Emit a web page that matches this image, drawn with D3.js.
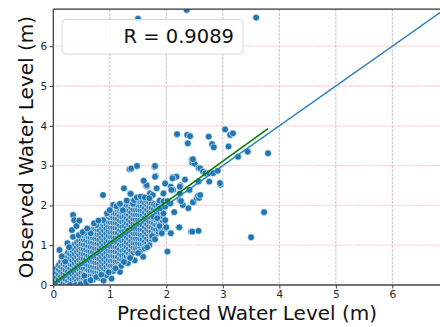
<!DOCTYPE html>
<html>
<head>
<meta charset="utf-8">
<script src="https://cdn.jsdelivr.net/npm/d3@7"></script>
<style>
  body { margin: 0; background: #fff; }
  svg { display: block; font-family: "DejaVu Sans", sans-serif; }
</style>
</head>
<body>
<div id="scatter"></div>
<script>
// Predicted vs observed water level (m)
var svgWidth = 440;
var svgHeight = 327;

var margin = { top: 9.2, left: 53.3, bottom: 42 };
var axisMax = 6.93;
var plotWidth = 391.6;   // runs a little past the right edge, like the reference
var height = svgHeight - margin.top - margin.bottom;

var tickValues = [0, 1, 2, 3, 4, 5, 6];
var gridValues = [1, 2, 3, 4, 5, 6];
var xTitle = "Predicted Water Level (m)";
var yTitle = "Observed Water Level (m)";
var legendText = "R = 0.9089";

// fitted line (observed = intercept + slope * predicted)
var regIntercept = 0.04;
var regSlope = 1.024;

// dense band of points: [predicted, [observed values]]
var bandColumns = [
  [0.02, [0.00, 0.11, 0.22, 0.32]],
  [0.06, [0.00, 0.07, 0.19, 0.31, 0.42]],
  [0.10, [0.03, 0.15, 0.27, 0.39, 0.50]],
  [0.14, [0.00, 0.10, 0.22, 0.34, 0.46, 0.58]],
  [0.18, [0.05, 0.17, 0.29, 0.41, 0.53, 0.65]],
  [0.22, [0.02, 0.14, 0.26, 0.38, 0.50, 0.62, 0.74]],
  [0.26, [0.02, 0.10, 0.22, 0.34, 0.46, 0.58, 0.70, 0.82]],
  [0.30, [0.06, 0.18, 0.30, 0.42, 0.54, 0.66, 0.78, 0.90]],
  [0.34, [0.03, 0.14, 0.26, 0.38, 0.50, 0.62, 0.74, 0.86, 0.96]],
  [0.38, [0.06, 0.18, 0.30, 0.42, 0.54, 0.66, 0.78, 0.90, 1.02]],
  [0.42, [0.05, 0.11, 0.23, 0.35, 0.47, 0.59, 0.71, 0.83, 0.95, 1.07]],
  [0.46, [0.07, 0.16, 0.28, 0.40, 0.52, 0.64, 0.76, 0.88, 1.00, 1.12]],
  [0.50, [0.08, 0.20, 0.32, 0.44, 0.56, 0.68, 0.80, 0.92, 1.04, 1.16]],
  [0.54, [0.11, 0.18, 0.30, 0.42, 0.54, 0.66, 0.78, 0.90, 1.02, 1.14, 1.24]],
  [0.58, [0.17, 0.29, 0.41, 0.53, 0.65, 0.77, 0.89, 1.01, 1.13, 1.25]],
  [0.62, [0.16, 0.26, 0.38, 0.50, 0.62, 0.74, 0.86, 0.98, 1.10, 1.22, 1.32]],
  [0.66, [0.24, 0.36, 0.48, 0.60, 0.72, 0.84, 0.96, 1.08, 1.20, 1.32]],
  [0.70, [0.23, 0.35, 0.47, 0.59, 0.71, 0.83, 0.95, 1.07, 1.19, 1.31, 1.40]],
  [0.74, [0.25, 0.33, 0.45, 0.57, 0.69, 0.81, 0.93, 1.05, 1.17, 1.29, 1.41]],
  [0.78, [0.32, 0.44, 0.56, 0.68, 0.80, 0.92, 1.04, 1.16, 1.28, 1.40, 1.48]],
  [0.82, [0.31, 0.42, 0.54, 0.66, 0.78, 0.90, 1.02, 1.14, 1.26, 1.38, 1.50]],
  [0.86, [0.35, 0.47, 0.59, 0.71, 0.83, 0.95, 1.07, 1.19, 1.31, 1.43, 1.55]],
  [0.90, [0.35, 0.41, 0.53, 0.65, 0.77, 0.89, 1.01, 1.13, 1.25, 1.37, 1.49, 1.60]],
  [0.94, [0.37, 0.46, 0.58, 0.70, 0.82, 0.94, 1.06, 1.18, 1.30, 1.42, 1.54, 1.66]],
  [0.98, [0.39, 0.51, 0.63, 0.75, 0.87, 0.99, 1.11, 1.23, 1.35, 1.47, 1.59, 1.71]],
  [1.02, [0.42, 0.49, 0.61, 0.73, 0.85, 0.97, 1.09, 1.21, 1.33, 1.45, 1.57, 1.69, 1.77]],
  [1.06, [0.49, 0.61, 0.73, 0.85, 0.97, 1.09, 1.21, 1.33, 1.45, 1.57, 1.69, 1.81]],
  [1.10, [0.50, 0.60, 0.72, 0.84, 0.96, 1.08, 1.20, 1.32, 1.44, 1.56, 1.68, 1.80]],
  [1.14, [0.59, 0.71, 0.83, 0.95, 1.07, 1.19, 1.31, 1.43, 1.55, 1.67, 1.79, 1.89]],
  [1.18, [0.58, 0.66, 0.78, 0.90, 1.02, 1.14, 1.26, 1.38, 1.50, 1.62, 1.74, 1.86, 1.93]],
  [1.22, [0.63, 0.75, 0.87, 0.99, 1.11, 1.23, 1.35, 1.47, 1.59, 1.71, 1.83, 1.95]],
  [1.26, [0.66, 0.77, 0.89, 1.01, 1.13, 1.25, 1.37, 1.49, 1.61, 1.73, 1.85, 1.97]],
  [1.30, [0.72, 0.84, 0.96, 1.08, 1.20, 1.32, 1.44, 1.56, 1.68, 1.80, 1.92, 2.00]],
  [1.34, [0.74, 0.80, 0.92, 1.04, 1.16, 1.28, 1.40, 1.52, 1.64, 1.76, 1.88, 2.00]],
  [1.38, [0.78, 0.87, 0.99, 1.11, 1.23, 1.35, 1.47, 1.59, 1.71, 1.83, 1.95, 2.04]],
  [1.42, [0.82, 0.94, 1.06, 1.18, 1.30, 1.42, 1.54, 1.66, 1.78, 1.90, 2.02]],
  [1.46, [0.86, 0.93, 1.05, 1.17, 1.29, 1.41, 1.53, 1.65, 1.77, 1.89, 2.01, 2.08]],
  [1.50, [0.93, 1.05, 1.17, 1.29, 1.41, 1.53, 1.65, 1.77, 1.89, 2.01, 2.10]],
  [1.54, [0.94, 1.04, 1.16, 1.28, 1.40, 1.52, 1.64, 1.76, 1.88, 2.00, 2.10]],
  [1.58, [1.03, 1.15, 1.27, 1.39, 1.51, 1.63, 1.75, 1.87, 1.99, 2.10]],
  [1.62, [1.02, 1.10, 1.22, 1.34, 1.46, 1.58, 1.70, 1.82, 1.94, 2.06]],
  [1.66, [1.06, 1.17, 1.29, 1.41, 1.53, 1.65, 1.77, 1.89, 2.01, 2.10]],
  [1.70, [1.12, 1.24, 1.36, 1.48, 1.60, 1.72, 1.84, 1.96, 2.08]],
  [1.74, [1.16, 1.22, 1.34, 1.46, 1.58, 1.70, 1.82, 1.94, 2.06]],
  [1.78, [1.22, 1.31, 1.43, 1.55, 1.67, 1.79, 1.91, 2.03]],
  [1.82, [1.28, 1.40, 1.52, 1.64, 1.76, 1.88, 2.00]],
  [1.86, [1.34, 1.41, 1.53, 1.65, 1.77, 1.89, 2.01]],
  [1.90, [1.43, 1.55, 1.67, 1.79, 1.91]],
  [1.94, [1.50, 1.60, 1.72, 1.84, 1.95]]
];

// loose points around the band: [predicted, observed]
var loosePoints = [
  [0.11, 0.88], [0.25, 1.05], [0.21, 0.59], [0.33, 1.38], [0.35, 1.21],
  [0.35, 1.76], [0.37, 1.63], [0.46, 1.62], [0.41, 1.48], [0.56, 1.31],
  [0.66, 1.30], [0.76, 1.51], [0.88, 1.63], [1.06, 2.01], [1.23, 1.88],
  [1.38, 2.09], [0.88, 2.26], [1.25, 2.43], [1.36, 2.30], [1.37, 2.29],
  [1.41, 2.04], [1.43, 2.13], [0.55, 0.23], [0.70, 0.13], [0.62, 0.10],
  [0.82, 0.18], [0.89, 0.11], [1.03, 0.16], [0.94, 0.25], [1.06, 0.35],
  [1.18, 0.33], [1.20, 0.48], [1.32, 0.55], [1.44, 0.62], [1.59, 0.71],
  [1.53, 0.84], [1.62, 0.92], [1.70, 1.00], [2.02, 0.84], [1.75, 1.23],
  [2.08, 1.30], [2.22, 1.45], [2.23, 1.45], [2.44, 1.34], [2.57, 1.36],
  [2.46, 1.34], [1.98, 1.49], [1.88, 1.48], [1.98, 1.42], [1.98, 1.63],
  [1.77, 1.72], [1.84, 1.68], [1.95, 1.80], [1.89, 1.93], [1.98, 1.97],
  [2.07, 2.05], [1.88, 2.12], [1.95, 2.10], [2.02, 2.11], [2.14, 1.83],
  [2.39, 1.93], [2.29, 2.01], [2.24, 2.13], [2.26, 2.11], [2.48, 2.07],
  [2.47, 2.08], [2.54, 2.18], [2.56, 2.24], [2.58, 2.19], [2.60, 2.26],
  [1.95, 2.30], [2.24, 2.30], [1.71, 2.30], [1.76, 2.26], [1.83, 2.43],
  [1.98, 2.55], [2.08, 2.47], [2.12, 2.39], [2.09, 2.39], [2.25, 2.50],
  [2.24, 2.47], [2.41, 2.39], [2.33, 2.65], [2.11, 2.71], [2.18, 2.72],
  [2.11, 2.68], [2.57, 2.60], [2.76, 2.60], [2.96, 2.52], [2.95, 2.56],
  [1.64, 2.49], [1.66, 2.48], [1.65, 2.51], [1.60, 2.62], [1.81, 2.74],
  [1.80, 2.72], [1.35, 2.91], [1.38, 2.93], [1.48, 2.99], [1.79, 2.97],
  [1.80, 2.99], [2.45, 3.15], [2.46, 3.07], [2.50, 3.05], [2.57, 2.94],
  [2.60, 2.93], [2.65, 2.85], [2.69, 2.81], [2.76, 2.81], [2.83, 2.81],
  [2.91, 2.87], [2.47, 3.16], [2.19, 3.79], [2.37, 3.77], [2.42, 3.74],
  [2.38, 3.56], [2.75, 3.73], [2.81, 3.54], [2.84, 3.46], [3.04, 3.91],
  [3.13, 3.77], [3.18, 3.81], [3.10, 3.48], [3.27, 3.22], [3.44, 3.35],
  [3.80, 3.31], [3.73, 1.83], [3.50, 1.20], [1.50, 6.69], [2.36, 6.91],
  [3.59, 6.72],
  // ragged upper edge of the band
  [0.15, 0.72], [0.28, 0.95], [0.45, 1.25], [0.52, 1.33], [0.60, 1.42],
  [0.72, 1.55], [0.80, 1.62], [0.95, 1.80], [1.00, 1.88], [1.12, 1.98],
  [1.18, 2.04], [1.30, 2.12], [1.48, 2.20], [1.55, 2.22], [1.62, 2.20],
  [1.70, 2.18],
  // ragged lower edge of the band
  [0.30, 0.00], [0.40, 0.00], [0.48, 0.02], [0.58, 0.08], [0.66, 0.12],
  [0.76, 0.20], [0.85, 0.26], [0.98, 0.32], [1.10, 0.42], [1.25, 0.58],
  [1.36, 0.68], [1.50, 0.80], [1.66, 0.95], [1.80, 1.15], [1.92, 1.30],
  [2.00, 1.45]
];

var points = [];
bandColumns.forEach(function(col) {
  col[1].forEach(function(obs) {
    points.push({ predicted: col[0], observed: obs });
  });
});
loosePoints.forEach(function(p) {
  points.push({ predicted: p[0], observed: p[1] });
});

var svg = d3.select("#scatter")
  .append("svg")
  .attr("width", svgWidth)
  .attr("height", svgHeight);

var xScale = d3.scaleLinear()
  .domain([0, axisMax])
  .range([margin.left, margin.left + plotWidth]);

var yScale = d3.scaleLinear()
  .domain([0, axisMax])
  .range([margin.top + height, margin.top]);

svg.append("clipPath")
  .attr("id", "plotClip")
  .append("rect")
  .attr("x", margin.left)
  .attr("y", margin.top)
  .attr("width", plotWidth)
  .attr("height", height);

// grid lines
svg.append("g")
  .selectAll("line")
  .data(gridValues)
  .enter()
  .append("line")
  .attr("x1", d => xScale(d))
  .attr("x2", d => xScale(d))
  .attr("y1", yScale(axisMax))
  .attr("y2", yScale(0))
  .attr("stroke", "#b4b4b4")
  .attr("stroke-width", 0.9)
  .attr("stroke-dasharray", "2.5,1.5");

svg.append("g")
  .selectAll("line")
  .data(gridValues)
  .enter()
  .append("line")
  .attr("x1", xScale(0))
  .attr("x2", xScale(axisMax))
  .attr("y1", d => yScale(d))
  .attr("y2", d => yScale(d))
  .attr("stroke", "#ffc6c6")
  .attr("stroke-width", 1.3)
  .attr("stroke-dasharray", "1.5,1");

// scatter
svg.append("g")
  .attr("clip-path", "url(#plotClip)")
  .selectAll("circle")
  .data(points)
  .enter()
  .append("circle")
  .attr("cx", d => xScale(d.predicted))
  .attr("cy", d => yScale(d.observed))
  .attr("r", 3.4)
  .attr("fill", "#1f77b4")
  .attr("stroke", "#ffffff")
  .attr("stroke-width", 0.6);

// 1:1 line
var line = d3.line()
  .x(d => xScale(d[0]))
  .y(d => yScale(d[1]));

svg.append("path")
  .attr("clip-path", "url(#plotClip)")
  .datum([[0, 0], [axisMax, axisMax]])
  .attr("d", line)
  .attr("fill", "none")
  .attr("stroke", "#2f7fc1")
  .attr("stroke-width", 1.5);

// fitted line over the range of predictions
var predExtent = d3.extent(points, d => d.predicted);
svg.append("path")
  .datum(predExtent.map(x => [x, regIntercept + regSlope * x]))
  .attr("d", line)
  .attr("fill", "none")
  .attr("stroke", "#008000")
  .attr("stroke-width", 1.6);

// axes
var bottomAxis = d3.axisBottom(xScale).tickValues(tickValues).tickFormat(d3.format("d"))
  .tickSize(3.5).tickPadding(2.5);
var leftAxis = d3.axisLeft(yScale).tickValues(tickValues).tickFormat(d3.format("d"))
  .tickSize(3.5).tickPadding(2.5);

var xAxis = svg.append("g")
  .attr("transform", `translate(0, ${yScale(0)})`)
  .call(bottomAxis);

var yAxis = svg.append("g")
  .attr("transform", `translate(${xScale(0)}, 0)`)
  .call(leftAxis);

[xAxis, yAxis].forEach(function(ax) {
  ax.select(".domain").remove();
  ax.selectAll("line").attr("stroke", "#333").attr("stroke-width", 1);
  ax.selectAll("text")
    .attr("fill", "#262626")
    .style("font-size", "10.5px")
    .style("font-family", "DejaVu Sans");
});

// spines
svg.append("line")
  .attr("x1", xScale(0)).attr("x2", xScale(0))
  .attr("y1", yScale(axisMax)).attr("y2", yScale(0))
  .attr("stroke", "#444").attr("stroke-width", 1.3);
svg.append("line")
  .attr("x1", xScale(0)).attr("x2", xScale(axisMax))
  .attr("y1", yScale(0)).attr("y2", yScale(0))
  .attr("stroke", "#444").attr("stroke-width", 1.3);
svg.append("line")
  .attr("x1", xScale(0)).attr("x2", xScale(axisMax))
  .attr("y1", yScale(axisMax)).attr("y2", yScale(axisMax))
  .attr("stroke", "#333").attr("stroke-width", 1.3);

// legend box
var legend = svg.append("g");
legend.append("rect")
  .attr("x", 62)
  .attr("y", 19.5)
  .attr("width", 181)
  .attr("height", 34.5)
  .attr("rx", 4)
  .attr("fill", "#ffffff")
  .attr("fill-opacity", 0.85)
  .attr("stroke", "#d6d6d6")
  .attr("stroke-width", 1);
legend.append("text")
  .attr("x", 234)
  .attr("y", 43)
  .attr("text-anchor", "end")
  .attr("fill", "#111")
  .style("font-size", "19.5px")
  .text(legendText);

// axis titles
svg.append("text")
  .attr("x", (xScale(0) + xScale(axisMax)) / 2 - 2)
  .attr("y", 320)
  .attr("text-anchor", "middle")
  .attr("fill", "#111")
  .style("font-size", "20px")
  .text(xTitle);

svg.append("text")
  .attr("transform", `translate(33, ${(yScale(0) + yScale(axisMax)) / 2}) rotate(-90)`)
  .attr("text-anchor", "middle")
  .attr("fill", "#111")
  .style("font-size", "20px")
  .text(yTitle);
</script>
</body>
</html>
